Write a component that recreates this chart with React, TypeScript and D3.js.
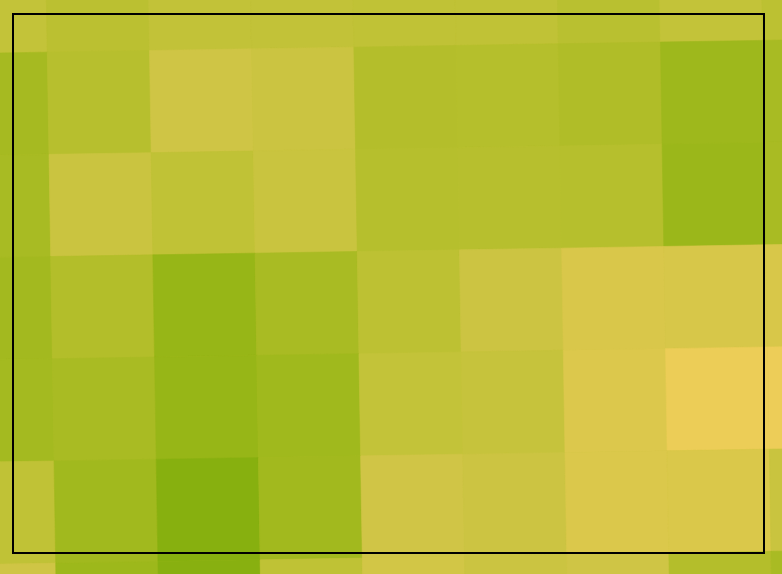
import React from "react";
import * as d3 from "d3";

// Grid columns / rows (cells of a tilted raster heatmap)
const columns = [0, 1, 2, 3, 4, 5, 6, 7, 8];
const rows = [0, 1, 2, 3, 4, 5, 6];

// Cell values (0 = greenest, 100 = most yellow), one array per row, left to right
const row0 = [58.8, 51, 57.8, 57.8, 55.9, 55.9, 49, 58.8, 52];
const row1 = [30.4, 47, 70.6, 66.7, 44, 45, 40, 22.5, 32.4];
const row2 = [32.4, 65.7, 55.9, 64.7, 46, 47, 46, 19.6, 33.3];
const row3 = [27.5, 43.1, 15.7, 33.3, 53, 67.6, 80.4, 78.4, 79.4];
const row4 = [28.4, 33.3, 15.7, 24.5, 58.8, 61.8, 83.3, 99, 100];
const row5 = [55.9, 25.5, 0, 26.5, 71.6, 67.6, 82.4, 81.4, 64.7];
const row6 = [70.6, 21.6, 1, 54.9, 73.5, 66.7, 70.6, 44, 33.3];

// Colour ramp stops
const colorStops = [0, 15.7, 43.1, 55.9, 70.6, 82.4, 100];
const colorRange = ["#87b00f", "#97b617", "#b3be2a", "#c0c236", "#cfc545", "#dbc84b", "#edcd58"];

const W = 782;
const H = 574;

export default function App() {
  const grid = [row0, row1, row2, row3, row4, row5, row6];
  const cell = 102.2;
  // anchor: top-left corner of column 5, row 4
  const Kx = 461.1;
  const Ky = 352.0;
  const angle = -(Math.atan(0.0165) * 180) / Math.PI;

  const x = d3
    .scaleLinear()
    .domain([0, columns.length])
    .range([Kx - 5 * cell, Kx + (columns.length - 5) * cell]);
  const y = d3
    .scaleLinear()
    .domain([0, rows.length])
    .range([Ky - 4 * cell, Ky + (rows.length - 4) * cell]);
  const color = d3
    .scaleLinear<string>()
    .domain(colorStops)
    .range(colorRange)
    .interpolate(d3.interpolateRgb)
    .clamp(true);

  const cells: { c: number; r: number; v: number }[] = [];
  rows.forEach((r) => columns.forEach((c) => cells.push({ c, r, v: grid[r][c] })));

  return (
    <svg
      width={W}
      height={H}
      style={{ position: "absolute", left: 0, top: 0, overflow: "hidden", background: "#c0c236" }}
    >
      <g transform={`translate(${Kx},${Ky}) rotate(${angle}) translate(${-Kx},${-Ky})`}>
        {cells.map((d) => (
          <rect
            key={`${d.r}-${d.c}`}
            x={x(d.c)}
            y={y(d.r)}
            width={x(d.c + 1) - x(d.c)}
            height={y(d.r + 1) - y(d.r)}
            fill={color(d.v)}
            stroke={color(d.v)}
            strokeWidth={0.6}
          />
        ))}
      </g>
      <rect x={13} y={14} width={751} height={539} fill="none" stroke="#000" strokeWidth={2} />
    </svg>
  );
}
